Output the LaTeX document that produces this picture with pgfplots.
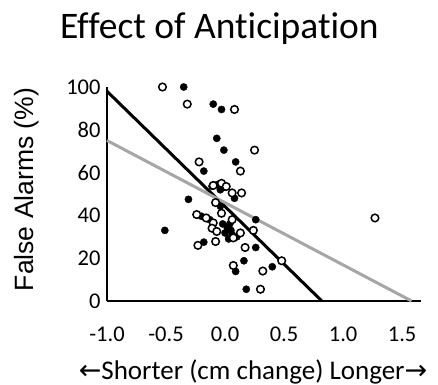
\documentclass[border=0pt]{standalone}
\usepackage{fontspec}
\setmainfont{Carlito}[Ligatures={NoCommon,NoContextual}]
\newfontfamily\sym{DejaVu Sans}
\newfontfamily\arial{Liberation Sans}
\usepackage{pgfplots}
\pgfplotsset{compat=1.18}
\begin{document}
\begin{tikzpicture}
\path[use as bounding box] (-107bp,-84bp) rectangle (331bp,301bp);
\begin{axis}[
  at={(0,0)}, anchor=south west,
  scale only axis, width=314bp, height=214bp,
  xmin=-1, xmax=1.66, ymin=0, ymax=100,
  axis lines=left,
  axis line style={-, line width=1.5bp, black},
  xtick={-1,-0.5,0,0.5,1,1.5},
  ytick={0,20,40,60,80,100},
  major tick length=0pt,
  /pgf/number format/assume math mode=true,
  xticklabel={\pgfmathprintnumber[fixed,fixed zerofill,precision=1]{\tick}},
  yticklabel={\pgfmathprintnumber[fixed,precision=0]{\tick}},
  ticklabel style={font=\fontsize{22.5bp}{26bp}\selectfont},
  xticklabel style={yshift=-22bp},
  yticklabel style={xshift=-3bp},
  title={Effect of Anticipation},
  title style={font=\fontsize{37.5bp}{42bp}\selectfont, at={(axis description cs:0.358,1)}, anchor=base, yshift=43bp},
  xlabel={{\sym\fontsize{27bp}{30bp}\selectfont ←}Shorter (cm change) Longer{\sym\fontsize{27bp}{30bp}\selectfont →}},
  xlabel style={font=\fontsize{27bp}{30bp}\selectfont, at={(axis description cs:0.465,0)}, anchor=base, yshift=-78bp},
  ylabel={False Alarms (\%)},
  ylabel style={font=\arial\fontsize{26.5bp}{30bp}\selectfont, at={([xshift=-80bp]axis description cs:0,0.521)}, anchor=center},
  clip=false,
]
\addplot[black, line width=3bp] coordinates {(-1,98) (0.82,0)};
\addplot[color={rgb,255:red,166;green,166;blue,166}, line width=3bp] coordinates {(-1,75) (1.58,0)};
\addplot[only marks, mark=*, mark size=3.6bp, black] coordinates {
(-0.35,100) (-0.10,92) (-0.03,89.5) (-0.07,76) (-0.01,70.5) (0.09,65)
(-0.18,60.7) (-0.11,53.6) (-0.06,54.5) (-0.02,53) (-0.04,52) (0.08,48)
(-0.31,47.5) (-0.04,44.3) (-0.20,39.6) (-0.13,38) (0.26,38) (-0.02,36)
(0.02,34) (0.05,33) (0.06,31) (0.0,31.8) (0.10,30) (0.03,29) (-0.51,33)
(-0.18,27.5) (0.26,25) (0.16,18.8) (0.09,13.8) (0.40,16) (0.18,5.5) (0.04,36)
};
\addplot[only marks, mark=*, mark size=3.8bp, mark options={fill=white, draw=black, line width=1.5bp}] coordinates {
(-0.53,100) (-0.32,92) (0.08,89.5) (0.25,70.5) (-0.22,65) (0.13,60.7)
(-0.10,54) (-0.03,55) (0.06,50.5) (0.14,50.5) (-0.08,46) (-0.03,41)
(-0.24,40.4) (-0.16,38.8) (0.06,38) (-0.10,36.5) (-0.11,34) (-0.07,32.5)
(0.13,31.8) (0.07,29.5) (-0.23,26) (-0.08,27.8) (0.17,25) (0.24,33)
(0.07,16.6) (0.32,14) (0.30,5.5) (0.48,18.8) (1.27,38.8) (0.01,53.5)
};
\end{axis}
\end{tikzpicture}
\end{document}
